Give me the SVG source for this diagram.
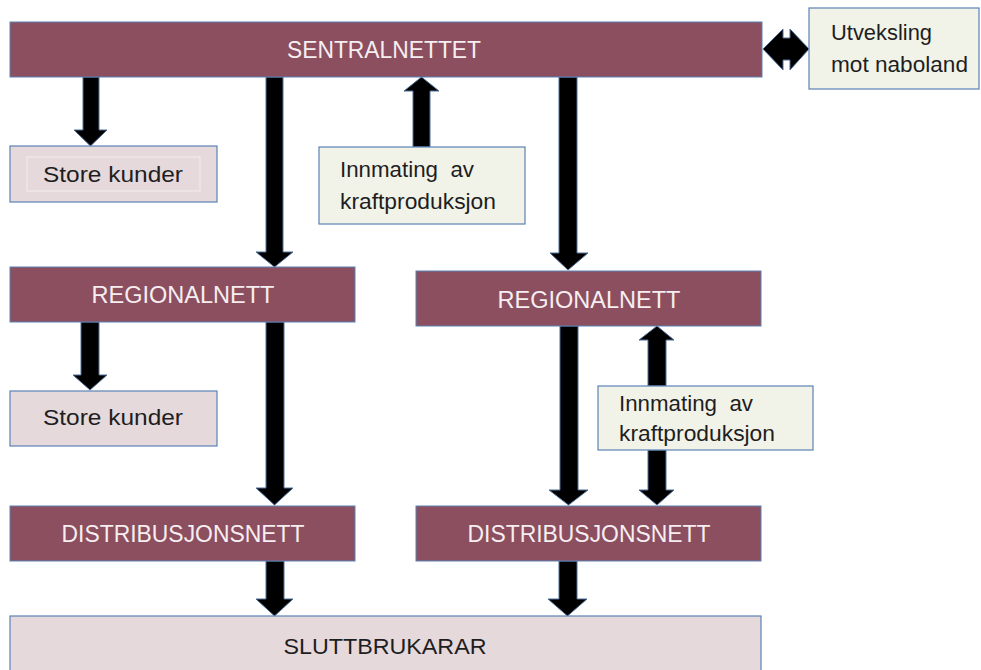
<svg xmlns="http://www.w3.org/2000/svg" width="981" height="670" viewBox="0 0 981 670">
<style>
.bar{fill:#8C4F5F;stroke:#5B82B5;stroke-width:1}
.pink{fill:#E6D9DC;stroke:#5B82B5;stroke-width:1.2}
.green{fill:#F2F3E8;stroke:#5B82B5;stroke-width:1.2}
.wt{font-family:"Liberation Sans",Arial,sans-serif;font-size:23px;fill:#F6EEF0;text-anchor:middle}
.bt{font-family:"Liberation Sans",Arial,sans-serif;font-size:22.5px;fill:#1e1e1e}
.arr{fill:#000;stroke:#4F6F99;stroke-width:1;stroke-linejoin:miter}
</style>
<rect width="981" height="670" fill="#fff"/>
<g id="connectors">
<path class="arr" d="M83,77 H99 V130 H107 L90.5,146 L74,130 H83 Z"/>
<path class="arr" d="M266,77 H283 V252 H293 L274.5,267 L256,252 H266 Z"/>
<path class="arr" d="M413,147 V91 H404 L421.5,77 L439,91 H430 V147 Z"/>
<path class="arr" d="M559,77 H577 V253 H588 L568,270 L550,253 H559 Z"/>
<path class="arr" d="M81,322 H99 V375 H107 L90,390 L73,375 H81 Z"/>
<path class="arr" d="M266,322 H284 V488 H293 L274.5,505 L256,488 H266 Z"/>
<path class="arr" d="M560,326 H578 V490 H588 L568.5,505 L549,490 H560 Z"/>
<path class="arr" d="M648,386 V340 H639 L657,326 L674,340 H666 V386 Z"/>
<path class="arr" d="M648,450 H666 V490 H674 L657,505 L639,490 H648 Z"/>
<path class="arr" d="M266,561 H284 V599 H293 L274.5,616 L256,599 H266 Z"/>
<path class="arr" d="M559,561 H577 V599 H587 L567.5,616 L548,599 H559 Z"/>
<path class="arr" d="M763,49 L783,29 V38 H790 V29 L809,49 L790,70 V60 H783 V70 Z"/>
</g>
<g id="sentralnettet">
<rect class="bar" x="10" y="22" width="752" height="55"/>
<text class="wt" x="384" y="58" textLength="194" lengthAdjust="spacingAndGlyphs">SENTRALNETTET</text>
</g>
<g id="utveksling">
<rect class="green" x="809" y="8" width="170" height="81"/>
<text class="bt" x="831" y="40" textLength="101" lengthAdjust="spacingAndGlyphs">Utveksling</text>
<text class="bt" x="831" y="72" textLength="137" lengthAdjust="spacingAndGlyphs">mot naboland</text>
</g>
<g id="store-kunder-1">
<rect class="pink" x="10" y="146" width="207" height="56"/>
<rect x="27" y="157" width="173" height="34" fill="none" stroke="#F3ECEE" stroke-width="1"/>
<text class="bt" x="113" y="182" text-anchor="middle" textLength="140" lengthAdjust="spacingAndGlyphs">Store kunder</text>
</g>
<g id="innmating-1">
<rect class="green" x="319" y="147" width="206" height="77"/>
<text class="bt" x="340" y="177" xml:space="preserve" textLength="134" lengthAdjust="spacingAndGlyphs">Innmating  av</text>
<text class="bt" x="340" y="209" textLength="156" lengthAdjust="spacingAndGlyphs">kraftproduksjon</text>
</g>
<g id="regionalnett-left">
<rect class="bar" x="10" y="267" width="345" height="55"/>
<text class="wt" x="183" y="303" textLength="183" lengthAdjust="spacingAndGlyphs">REGIONALNETT</text>
</g>
<g id="regionalnett-right">
<rect class="bar" x="416" y="271" width="345" height="55"/>
<text class="wt" x="589" y="308" textLength="183" lengthAdjust="spacingAndGlyphs">REGIONALNETT</text>
</g>
<g id="store-kunder-2">
<rect class="pink" x="10" y="391" width="207" height="55"/>
<text class="bt" x="113" y="425" text-anchor="middle" textLength="140" lengthAdjust="spacingAndGlyphs">Store kunder</text>
</g>
<g id="innmating-2">
<rect class="green" x="598" y="386" width="215" height="64"/>
<text class="bt" x="619" y="411" xml:space="preserve" textLength="134" lengthAdjust="spacingAndGlyphs">Innmating  av</text>
<text class="bt" x="619" y="441" textLength="156" lengthAdjust="spacingAndGlyphs">kraftproduksjon</text>
</g>
<g id="distribusjonsnett-left">
<rect class="bar" x="10" y="506" width="345" height="55"/>
<text class="wt" x="183" y="542" textLength="243" lengthAdjust="spacingAndGlyphs">DISTRIBUSJONSNETT</text>
</g>
<g id="distribusjonsnett-right">
<rect class="bar" x="416" y="506" width="345" height="55"/>
<text class="wt" x="589" y="542" textLength="243" lengthAdjust="spacingAndGlyphs">DISTRIBUSJONSNETT</text>
</g>
<g id="sluttbrukarar">
<rect class="pink" x="10" y="616" width="751" height="60"/>
<text class="bt" x="385" y="654" text-anchor="middle" font-size="23" textLength="203" lengthAdjust="spacingAndGlyphs">SLUTTBRUKARAR</text>
</g>
</svg>
